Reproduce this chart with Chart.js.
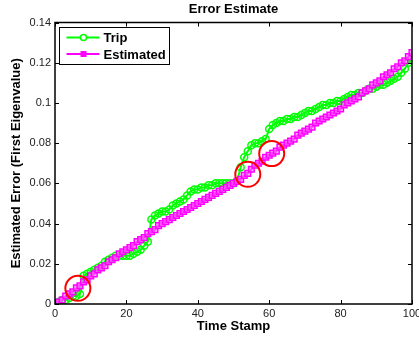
<!DOCTYPE html>
<html>
<head>
<meta charset="utf-8">
<script src="https://cdn.jsdelivr.net/npm/chart.js@4"></script>
<style>
  html, body { margin: 0; padding: 0; background: #fff; }
  #chartError { display: block; }
</style>
</head>
<body>
<canvas id="chartError" width="419" height="341"></canvas>
<script>
// datos
const timeStamps = [
  0, 1, 2, 3, 4, 5, 6, 7, 8, 9, 10, 11, 12, 13, 14, 15, 16, 17, 18, 19,
  20, 21, 22, 23, 24, 25, 26, 27, 28, 29, 30, 31, 32, 33, 34, 35, 36, 37, 38, 39,
  40, 41, 42, 43, 44, 45, 46, 47, 48, 49, 50, 51, 52, 53, 54, 55, 56, 57, 58, 59,
  60, 61, 62, 63, 64, 65, 66, 67, 68, 69, 70, 71, 72, 73, 74, 75, 76, 77, 78, 79,
  80, 81, 82, 83, 84, 85, 86, 87, 88, 89, 90, 91, 92, 93, 94, 95, 96, 97, 98, 99, 100
];

const tripValues = [
  0.000, 0.001, 0.002, 0.002, 0.003, 0.004, 0.004, 0.005, 0.014, 0.015,
  0.016, 0.017, 0.018, 0.019, 0.021, 0.022, 0.023, 0.024, 0.024, 0.024,
  0.024, 0.024, 0.025, 0.026, 0.027, 0.029, 0.031, 0.042, 0.044, 0.045,
  0.046, 0.046, 0.047, 0.049, 0.050, 0.051, 0.052, 0.054, 0.056, 0.057,
  0.057, 0.058, 0.058, 0.059, 0.059, 0.060, 0.060, 0.060, 0.060, 0.060,
  0.060, 0.061, 0.068, 0.073, 0.076, 0.079, 0.080, 0.080, 0.081, 0.082,
  0.087, 0.089, 0.090, 0.091, 0.091, 0.092, 0.092, 0.093, 0.093, 0.094,
  0.095, 0.096, 0.096, 0.097, 0.098, 0.099, 0.099, 0.100, 0.100, 0.101,
  0.101, 0.102, 0.103, 0.104, 0.104, 0.105, 0.105, 0.106, 0.107, 0.107,
  0.108, 0.109, 0.109, 0.110, 0.111, 0.112, 0.113, 0.115, 0.117, 0.120, 0.122
];

const estimatedValues = [
  0.000, 0.001, 0.002, 0.004, 0.005, 0.006, 0.008, 0.009, 0.011, 0.012,
  0.014, 0.015, 0.017, 0.018, 0.019, 0.021, 0.022, 0.023, 0.025, 0.026,
  0.027, 0.028, 0.029, 0.031, 0.032, 0.033, 0.035, 0.036, 0.037, 0.039,
  0.040, 0.041, 0.042, 0.043, 0.044, 0.045, 0.046, 0.047, 0.048, 0.049,
  0.050, 0.051, 0.052, 0.053, 0.054, 0.055, 0.056, 0.057, 0.058, 0.059,
  0.060, 0.061, 0.062, 0.064, 0.065, 0.067, 0.069, 0.070, 0.071, 0.073,
  0.074, 0.075, 0.076, 0.078, 0.079, 0.080, 0.081, 0.082, 0.084, 0.085,
  0.086, 0.087, 0.088, 0.090, 0.091, 0.092, 0.093, 0.094, 0.095, 0.096,
  0.097, 0.099, 0.100, 0.101, 0.102, 0.103, 0.105, 0.106, 0.107, 0.109,
  0.110, 0.111, 0.113, 0.114, 0.115, 0.117, 0.118, 0.120, 0.121, 0.123, 0.125
];

// circulos rojos marcados en la figura
const circleTimes = [6.4, 54.0, 60.7];
const circleValues = [0.0078, 0.0645, 0.0748];

const xTicks = [0, 20, 40, 60, 80, 100];
const yTicks = [0, 0.02, 0.04, 0.06, 0.08, 0.1, 0.12, 0.14];

const FONT = "'Liberation Sans', Arial, Helvetica, sans-serif";

// marco estilo matlab con ticks hacia adentro
const framePlugin = {
    id: 'framePlugin',
    afterDraw(chart) {
        const { ctx, chartArea: a, scales } = chart;
        ctx.save();
        ctx.strokeStyle = '#000';
        ctx.lineWidth = 1;
        ctx.beginPath();
        xTicks.forEach(v => {
            const px = Math.round(scales.x.getPixelForValue(v)) + 0.5;
            ctx.moveTo(px, a.bottom); ctx.lineTo(px, a.bottom - 4);
            ctx.moveTo(px, a.top); ctx.lineTo(px, a.top + 4);
        });
        yTicks.forEach(v => {
            const py = Math.round(scales.y.getPixelForValue(v)) + 0.5;
            ctx.moveTo(a.left, py); ctx.lineTo(a.left + 4, py);
            ctx.moveTo(a.right, py); ctx.lineTo(a.right - 4, py);
        });
        ctx.stroke();
        ctx.lineWidth = 1.5;
        ctx.strokeRect(a.left, a.top, a.right - a.left, a.bottom - a.top);

        // leyenda
        const bx = a.left + 4.5, by = a.top + 5, bw = 110, bh = 37;
        ctx.fillStyle = '#fff';
        ctx.fillRect(bx, by, bw, bh);
        ctx.lineWidth = 1;
        ctx.strokeRect(bx, by, bw, bh);
        const items = chart.data.datasets.filter(d => d.label);
        items.forEach((d, i) => {
            const y = by + 10 + i * 16.5;
            ctx.strokeStyle = d.borderColor;
            ctx.lineWidth = 2;
            ctx.beginPath();
            ctx.moveTo(bx + 7, y); ctx.lineTo(bx + 40, y);
            ctx.stroke();
            ctx.lineWidth = 1.5;
            if (d.pointStyle === 'rect') {
                ctx.fillStyle = d.borderColor;
                ctx.fillRect(bx + 21, y - 3, 6, 6);
            } else {
                ctx.fillStyle = '#fff';
                ctx.beginPath();
                ctx.arc(bx + 24, y, 3, 0, Math.PI * 2);
                ctx.fill();
                ctx.stroke();
            }
            ctx.fillStyle = '#000';
            ctx.font = 'bold 13px ' + FONT;
            ctx.textBaseline = 'middle';
            ctx.textAlign = 'left';
            ctx.fillText(d.label, bx + 44, y + 1);
        });
        ctx.restore();
    }
};

new Chart(document.getElementById('chartError'), {
    type: 'line',
    data: {
        datasets: [
            {
                label: 'Trip',
                data: timeStamps.map((t, i) => ({ x: t, y: tripValues[i] })),
                borderColor: '#00ff00',
                backgroundColor: 'rgba(0,0,0,0)',
                borderWidth: 2,
                pointStyle: 'circle',
                pointRadius: 3.5,
                pointBorderWidth: 1.5,
                pointBorderColor: '#00ff00',
                pointBackgroundColor: 'rgba(0,0,0,0)',
                tension: 0,
                order: 2,
            },
            {
                label: 'Estimated',
                data: timeStamps.map((t, i) => ({ x: t, y: estimatedValues[i] })),
                borderColor: '#ff00ff',
                backgroundColor: 'rgba(0,0,0,0)',
                borderWidth: 2,
                pointStyle: 'rect',
                pointRadius: 4,
                pointBorderWidth: 1.5,
                pointBorderColor: '#ff00ff',
                pointBackgroundColor: 'rgba(255,120,255,0.6)',
                tension: 0,
                order: 1,
            },
            {
                data: circleTimes.map((t, i) => ({ x: t, y: circleValues[i] })),
                showLine: false,
                pointStyle: 'circle',
                pointRadius: 12.5,
                pointBorderWidth: 2,
                pointBorderColor: '#ff0000',
                pointBackgroundColor: 'rgba(0,0,0,0)',
                borderColor: '#ff0000',
                order: 0,
            },
        ],
    },
    options: {
        responsive: false,
        animation: false,
        layout: { autoPadding: false, padding: { right: 7 } },
        plugins: {
            legend: { display: false },
            tooltip: { enabled: false },
            title: {
                display: true,
                text: 'Error Estimate',
                fullSize: false,
                color: '#000',
                font: { family: FONT, size: 13, weight: 'bold' },
                padding: { top: 1.5, bottom: 5.4 },
            },
        },
        scales: {
            x: {
                type: 'linear',
                min: 0,
                max: 100,
                afterBuildTicks: (s) => { s.ticks = xTicks.map(v => ({ value: v })); },
                afterFit: (s) => { s.height = 37; s.paddingLeft = 0; s.paddingRight = 0; },
                grid: { display: false, drawTicks: false },
                border: { display: false },
                ticks: {
                    color: '#222',
                    font: { family: FONT, size: 11 },
                    padding: 3,
                    maxRotation: 0,
                    autoSkip: false,
                },
                title: {
                    display: true,
                    text: 'Time Stamp',
                    color: '#000',
                    font: { family: FONT, size: 13, weight: 'bold' },
                    padding: { top: 0, bottom: 7 },
                },
            },
            y: {
                type: 'linear',
                min: 0,
                max: 0.14,
                afterBuildTicks: (s) => { s.ticks = yTicks.map(v => ({ value: v })); },
                afterFit: (s) => { s.width = 55; s.paddingTop = 0; s.paddingBottom = 0; },
                grid: { display: false, drawTicks: false },
                border: { display: false },
                ticks: {
                    color: '#222',
                    font: { family: FONT, size: 11 },
                    padding: 4,
                    autoSkip: false,
                    callback: (v) => String(+Number(v).toFixed(2)),
                },
                title: {
                    display: true,
                    text: 'Estimated Error (First Eigenvalue)',
                    color: '#000',
                    font: { family: FONT, size: 13, weight: 'bold' },
                    padding: { top: 9, bottom: 0 },
                },
            },
        },
    },
    plugins: [framePlugin],
});
</script>
</body>
</html>
